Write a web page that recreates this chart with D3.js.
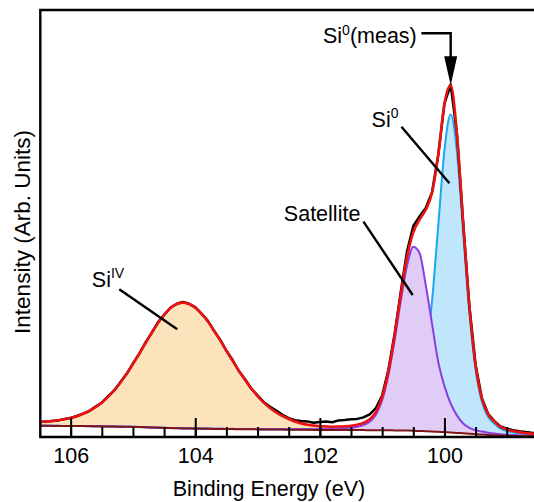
<!DOCTYPE html>
<html>
<head>
<meta charset="utf-8">
<script src="https://cdn.jsdelivr.net/npm/d3@7"></script>
<style>
  html, body { margin: 0; padding: 0; background: #fff; }
  svg { display: block; font-family: "Liberation Sans", Arial, Helvetica, sans-serif; }
</style>
</head>
<body>
<svg id="chart" width="534" height="502"></svg>
<script>
// Si 2p region: binding energy grid (eV), 0.1 eV steps from high to low energy
const energy = [
  106.5, 106.4, 106.3, 106.2, 106.1, 106.0, 105.9, 105.8, 105.7, 105.6,
  105.5, 105.4, 105.3, 105.2, 105.1, 105.0, 104.9, 104.8, 104.7, 104.6,
  104.5, 104.4, 104.3, 104.2, 104.1, 104.0, 103.9, 103.8, 103.7, 103.6,
  103.5, 103.4, 103.3, 103.2, 103.1, 103.0, 102.9, 102.8, 102.7, 102.6,
  102.5, 102.4, 102.3, 102.2, 102.1, 102.0, 101.9, 101.8, 101.7, 101.6,
  101.5, 101.4, 101.3, 101.2, 101.1, 101.0, 100.9, 100.8, 100.7, 100.6,
  100.5, 100.4, 100.3, 100.2, 100.1, 100.0, 99.9, 99.8, 99.7, 99.6,
  99.5, 99.4, 99.3, 99.2, 99.1, 99.0, 98.9, 98.8, 98.7, 98.6, 98.5
];

// Shirley-type background
const background = [
  11.2, 11.2, 11.1, 11.1, 11.0, 11.0, 10.9, 10.9, 10.8, 10.7,
  10.6, 10.5, 10.4, 10.3, 10.2, 10.1, 9.9, 9.7, 9.5, 9.3,
  9.1, 8.9, 8.8, 8.6, 8.5, 8.4, 8.3, 8.2, 8.1, 8.0,
  7.9, 7.9, 7.8, 7.8, 7.7, 7.6, 7.5, 7.5, 7.4, 7.4,
  7.3, 7.3, 7.2, 7.2, 7.1, 7.1, 7.1, 7.0, 7.0, 7.0,
  6.9, 6.9, 6.9, 6.8, 6.8, 6.7, 6.7, 6.6, 6.5, 6.4,
  6.2, 6.0, 5.8, 5.5, 5.2, 4.9, 4.5, 4.1, 3.7, 3.2,
  2.8, 2.4, 2.0, 1.7, 1.4, 1.2, 1.0, 0.9, 0.8, 0.7, 0.6
];

// Fitted components (intensity above background)
const siIV = [
  3.7, 4.2, 4.8, 5.6, 6.6, 8.0, 9.8, 12.2, 15.2, 19.0,
  23.7, 29.4, 36.2, 44.1, 53.0, 62.8, 73.1, 83.8, 94.4, 104.3,
  112.9, 119.7, 124.0, 125.5, 124.2, 120.5, 114.7, 107.1, 98.1, 88.2,
  78.0, 67.8, 57.9, 48.6, 40.2, 32.8, 26.3, 20.9, 16.4, 12.8,
  9.9, 7.2, 5.4, 4.0, 3.0, 2.3, 1.8, 1.4, 1.2, 1.0,
  0.9, 0.8, 0.75, 0.7, 0.66, 0.62, 0.59, 0.56, 0.53, 0.50,
  0.48, 0.46, 0.44, 0.42, 0.40, 0.38, 0.36, 0.35, 0.33, 0.32,
  0.31, 0.30, 0.29, 0.28, 0.27, 0.26, 0.25, 0.24, 0.23, 0.22, 0.21
];

const satellite = [
  0.06, 0.06, 0.06, 0.06, 0.07, 0.07, 0.07, 0.07, 0.08, 0.08,
  0.08, 0.09, 0.09, 0.09, 0.10, 0.10, 0.11, 0.11, 0.12, 0.12,
  0.13, 0.14, 0.14, 0.15, 0.16, 0.17, 0.18, 0.19, 0.20, 0.21,
  0.22, 0.23, 0.25, 0.27, 0.29, 0.31, 0.34, 0.37, 0.40, 0.44,
  0.48, 0.53, 0.59, 0.66, 0.75, 0.85, 1.0, 1.2, 1.5, 1.9,
  2.5, 3.4, 5.0, 8.5, 15.5, 30.0, 55.0, 90.0, 130.0, 165.0,
  184.0, 178.0, 146.0, 108.0, 70.0, 46.0, 29.0, 17.5, 9.8, 6.0,
  4.0, 3.0, 2.3, 1.8, 1.4, 1.1, 0.9, 0.75, 0.65, 0.55, 0.5
];

const si0 = [
  0.06, 0.06, 0.06, 0.06, 0.07, 0.07, 0.07, 0.07, 0.08, 0.08,
  0.08, 0.09, 0.09, 0.09, 0.10, 0.10, 0.10, 0.11, 0.11, 0.12,
  0.12, 0.13, 0.13, 0.14, 0.15, 0.15, 0.16, 0.17, 0.18, 0.19,
  0.20, 0.21, 0.22, 0.23, 0.25, 0.26, 0.28, 0.30, 0.32, 0.34,
  0.37, 0.40, 0.43, 0.47, 0.52, 0.57, 0.63, 0.70, 0.78, 0.88,
  1.0, 1.2, 1.4, 1.7, 2.1, 2.7, 3.5, 4.6, 5.9, 8.3,
  14.1, 33.0, 75.0, 130.0, 206.0, 282.0, 318.0, 281.5, 201.0, 121.1,
  64.6, 33.0, 18.2, 11.8, 7.0, 5.0, 3.8, 3.0, 2.4, 2.0, 1.7
];

// Measured spectrum
const measured = [
  15.0, 15.5, 16.1, 16.6, 17.9, 19.0, 21.0, 23.4, 26.0, 30.4,
  34.3, 40.6, 46.6, 54.9, 63.2, 73.5, 83.0, 94.4, 104.0, 114.6,
  122.0, 129.2, 133.0, 135.0, 133.2, 129.9, 123.3, 116.4, 106.4, 97.4,
  86.2, 77.0, 66.0, 57.8, 48.3, 41.6, 34.8, 30.2, 26.5, 22.2,
  18.9, 16.8, 15.9, 15.4, 14.2, 14.9, 15.6, 14.7, 16.6, 16.9,
  17.8, 18.1, 19.6, 22.6, 29.0, 41.5, 67.0, 103.0, 145.5, 186.0,
  211.0, 220.5, 229.0, 244.5, 282.0, 333.5, 352.5, 303.5, 214.8, 131.0,
  72.0, 39.0, 23.2, 15.9, 10.6, 8.3, 6.7, 5.7, 5.0, 4.3, 3.8
];

const majorTicks = [106, 104, 102, 100];
const minorTicks = [106, 105.5, 105, 104.5, 104, 103.5, 103, 102.5, 102, 101.5, 101, 100.5, 100, 99.5, 99];

const xLabel = "Binding Energy (eV)";
const yLabel = "Intensity (Arb. Units)";

// ---------------------------------------------------------------------------
const W = 534, H = 502;
const plotLeft = 40.3, plotTop = 10, plotBottom = 437;
const textSize = 21.5, supSize = 14;

const x = d3.scaleLinear().domain([106.5, 98.5]).range([39.5, 537.9]);
const y = d3.scaleLinear().domain([0, 427]).range([plotBottom, plotTop]);

const rows = energy.map((e, i) => ({
  e,
  bg: background[i],
  siIV: siIV[i],
  sat: satellite[i],
  si0: si0[i],
  meas: measured[i]
}));
rows.forEach(r => { r.env = r.bg + r.siIV + r.sat + r.si0; });

const svg = d3.select("#chart");

svg.append("defs").append("clipPath").attr("id", "plot-clip")
  .append("rect").attr("x", plotLeft).attr("y", plotTop)
  .attr("width", W - plotLeft + 10).attr("height", plotBottom - plotTop);

const plot = svg.append("g").attr("clip-path", "url(#plot-clip)");

const curve = d3.curveMonotoneX;
const band = key => d3.area().curve(curve)
  .x(d => x(d.e)).y0(d => y(d.bg)).y1(d => y(d.bg + d[key]));
const edge = key => d3.line().curve(curve)
  .x(d => x(d.e)).y(d => y(d.bg + d[key]));

// component fills and outlines
plot.append("path").datum(rows).attr("d", band("siIV")).attr("fill", "#fde3bb");
plot.append("path").datum(rows).attr("d", band("si0")).attr("fill", "#bfe6fb");
plot.append("path").datum(rows).attr("d", edge("si0"))
  .attr("fill", "none").attr("stroke", "#19a9ef").attr("stroke-width", 2);
plot.append("path").datum(rows).attr("d", band("sat")).attr("fill", "#e1ccf5");
plot.append("path").datum(rows).attr("d", edge("sat"))
  .attr("fill", "none").attr("stroke", "#8b3fe3").attr("stroke-width", 2);

// background
plot.append("path").datum(rows)
  .attr("d", d3.line().curve(curve).x(d => x(d.e)).y(d => y(d.bg)))
  .attr("fill", "none").attr("stroke", "#7d1616").attr("stroke-width", 2);

// measured data
plot.append("path").datum(rows)
  .attr("d", d3.line().x(d => x(d.e)).y(d => y(d.meas)))
  .attr("fill", "none").attr("stroke", "#000").attr("stroke-width", 2.5)
  .attr("stroke-linejoin", "round");

// fit envelope
plot.append("path").datum(rows)
  .attr("d", d3.line().curve(curve).x(d => x(d.e)).y(d => y(d.env)))
  .attr("fill", "none").attr("stroke", "#ee1111").attr("stroke-width", 2.6);

// frame (left, top, bottom)
svg.append("path")
  .attr("d", `M${W + 5},${plotTop}H${plotLeft}V${plotBottom}H${W + 5}`)
  .attr("fill", "none").attr("stroke", "#000").attr("stroke-width", 2.4);

// inward ticks on the energy axis
const minorAxis = d3.axisBottom(x).tickValues(minorTicks).tickSize(-10).tickFormat("");
const majorAxis = d3.axisBottom(x).tickValues(majorTicks).tickSize(-19)
  .tickPadding(11).tickFormat(d3.format("d"));

[minorAxis, majorAxis].forEach(ax => {
  const g = svg.append("g").attr("transform", `translate(0,${plotBottom})`).call(ax);
  g.select(".domain").remove();
  g.selectAll(".tick line").attr("stroke", "#000").attr("stroke-width", 2);
  g.selectAll(".tick text").attr("fill", "#000")
    .style("font-size", textSize + "px")
    .style("font-family", "'Liberation Sans', Arial, sans-serif");
});

// axis titles
svg.append("text")
  .attr("x", 269).attr("y", 496)
  .attr("text-anchor", "middle").style("font-size", textSize + "px").attr("fill", "#000")
  .text(xLabel);

svg.append("text")
  .attr("transform", "translate(29.5,232) rotate(-90)")
  .attr("text-anchor", "middle").style("font-size", "22.5px").attr("fill", "#000")
  .text(yLabel);

// peak labels: position and leader ends in (eV, intensity)
const annotations = [
  { parts: [["Si"], ["IV", true]], at: [105.66, 150.3], anchor: "start",
    leader: [[105.22, 147.7], [104.29, 107.7]] },
  { parts: [["Satellite"]], at: [101.35, 216], anchor: "end",
    leader: [[101.30, 215.3], [100.51, 142]] },
  { parts: [["Si"], ["0", true]], at: [101.17, 310.3], anchor: "start",
    leader: [[100.69, 310.3], [99.92, 253.7]] }
];

function writeLabel(sel, parts) {
  let raised = false;
  parts.forEach(([t, sup]) => {
    const ts = sel.append("tspan").text(t);
    if (sup && !raised) { ts.attr("dy", -8.5).style("font-size", supSize + "px"); raised = true; }
    else if (!sup && raised) { ts.attr("dy", 8.5); raised = false; }
  });
}

const notes = svg.append("g");
annotations.forEach(a => {
  const t = notes.append("text")
    .attr("x", x(a.at[0])).attr("y", y(a.at[1]))
    .attr("text-anchor", a.anchor).style("font-size", textSize + "px").attr("fill", "#000");
  writeLabel(t, a.parts);
  notes.append("line")
    .attr("x1", x(a.leader[0][0])).attr("y1", y(a.leader[0][1]))
    .attr("x2", x(a.leader[1][0])).attr("y2", y(a.leader[1][1]))
    .attr("stroke", "#000").attr("stroke-width", 2.4);
});

// arrow to the measured maximum
const peak = rows.reduce((m, r) => (r.env > m.env ? r : m), rows[0]);
const tipX = x(peak.e), tipY = y(peak.env);
const arrowY = y(403.7), headLen = 29, headHalf = 6.5;

const measLabel = notes.append("text")
  .attr("x", x(101.95)).attr("y", y(394))
  .attr("text-anchor", "start").style("font-size", textSize + "px").attr("fill", "#000");
writeLabel(measLabel, [["Si"], ["0", true], ["(meas)"]]);

notes.append("path")
  .attr("d", `M${x(100.37)},${arrowY}H${tipX}V${tipY - headLen + 2}`)
  .attr("fill", "none").attr("stroke", "#000").attr("stroke-width", 2.4);
notes.append("path")
  .attr("d", `M${tipX - headHalf},${tipY - headLen}L${tipX + headHalf},${tipY - headLen}L${tipX},${tipY}Z`)
  .attr("fill", "#000");
</script>
</body>
</html>
